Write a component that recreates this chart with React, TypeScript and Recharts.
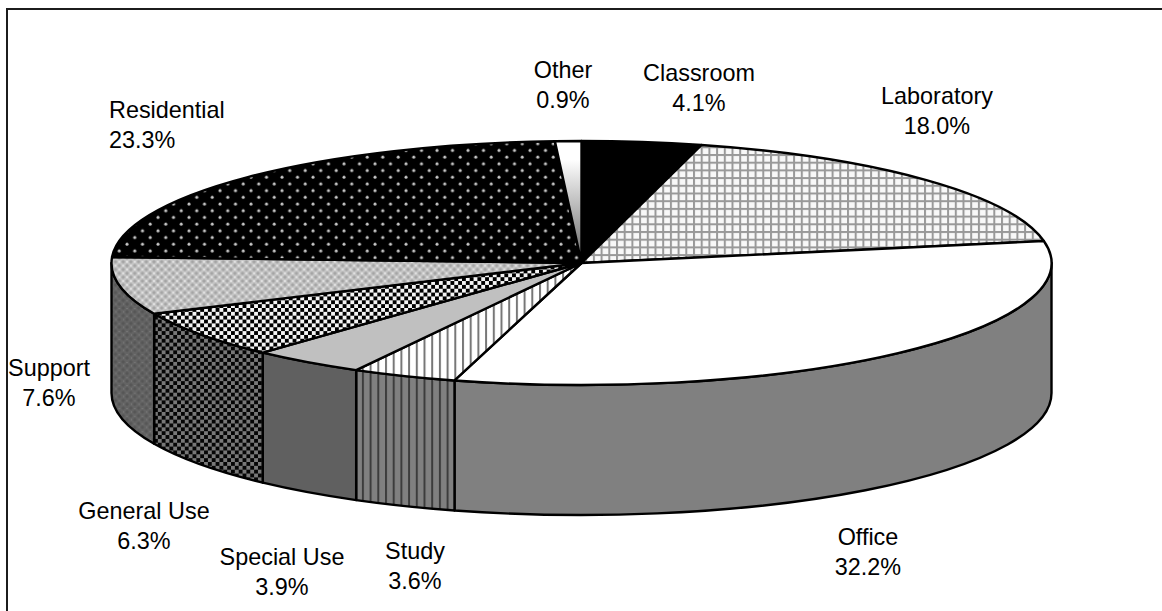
import React from 'react';
import { PieChart, Pie } from 'recharts';

const categories = ['Classroom', 'Laboratory', 'Office', 'Study', 'Special Use', 'General Use', 'Support', 'Residential', 'Other'];
const shares = [4.1, 18.0, 32.2, 3.6, 3.9, 6.3, 7.6, 23.3, 0.9];
const rows = categories.map((name, i) => ({ name, value: shares[i] }));

const TOP_FILL: Record<string, string> = {
  Classroom: '#000',
  Laboratory: 'url(#labTop)',
  Office: '#fff',
  Study: 'url(#studyTop)',
  'Special Use': '#c0c0c0',
  'General Use': 'url(#generalTop)',
  Support: 'url(#supportTop)',
  Residential: 'url(#residentialTop)',
  Other: 'url(#otherTop)',
};
const WALL_FILL: Record<string, string> = {
  Office: '#808080',
  Study: 'url(#studyWall)',
  'Special Use': '#606060',
  'General Use': 'url(#generalWall)',
  Support: 'url(#supportWall)',
};
const LABEL_POS: Record<string, { x: number; y: number; anchor: 'middle' | 'start' }> = {
  Classroom: { x: 699, y: 81, anchor: 'middle' },
  Laboratory: { x: 937, y: 104, anchor: 'middle' },
  Office: { x: 868, y: 545, anchor: 'middle' },
  Study: { x: 415, y: 559, anchor: 'middle' },
  'Special Use': { x: 282, y: 565, anchor: 'middle' },
  'General Use': { x: 144, y: 519, anchor: 'middle' },
  Support: { x: 49, y: 376, anchor: 'middle' },
  Residential: { x: 109, y: 118, anchor: 'start' },
  Other: { x: 563, y: 78, anchor: 'middle' },
};

const FLATTEN = 122 / 470;
const DEPTH = 130;
const rad = (d: number) => (d * Math.PI) / 180;

function Slice(props: any) {
  const { cx, cy, outerRadius, startAngle, endAngle, name, payload } = props;
  const key = name ?? payload?.name;
  const rx = outerRadius;
  const ry = outerRadius * FLATTEN;
  const t1 = 90 - startAngle;
  const t2 = 90 - endAngle;
  const at = (t: number, dy = 0) => `${cx + rx * Math.sin(rad(t))} ${cy - ry * Math.cos(rad(t)) + dy}`;
  const top = `M${cx} ${cy}L${at(t1)}A${rx} ${ry} 0 ${t2 - t1 > 180 ? 1 : 0} 1 ${at(t2)}Z`;
  const w1 = Math.max(t1, 90);
  const w2 = Math.min(t2, 270);
  const wall =
    w2 > w1 && WALL_FILL[key]
      ? `M${at(w1)}A${rx} ${ry} 0 0 1 ${at(w2)}L${at(w2, DEPTH)}A${rx} ${ry} 0 0 0 ${at(w1, DEPTH)}Z`
      : null;
  return (
    <g>
      {wall && <path d={wall} fill={WALL_FILL[key]} stroke="#000" strokeWidth={2.4} strokeLinejoin="round" />}
      <path d={top} fill={TOP_FILL[key]} stroke="#000" strokeWidth={2.4} strokeLinejoin="round" />
    </g>
  );
}

function SliceLabel(props: any) {
  const key = props.name ?? props.payload?.name;
  const value = props.value ?? props.payload?.value;
  const pos = LABEL_POS[key];
  if (!pos) return null;
  return (
    <text x={pos.x} y={pos.y} textAnchor={pos.anchor} fontFamily="Liberation Sans, Arial, sans-serif" fontSize={23.4} fill="#000">
      <tspan x={pos.x}>{key}</tspan>
      <tspan x={pos.x} dy={30}>{`${Number(value).toFixed(1)}%`}</tspan>
    </text>
  );
}

function Patterns() {
  const c = 7.7;
  const h = c / 2;
  const dx = 15.5;
  const dy = 13.4;
  return (
    <defs>
      <pattern id="labTop" width={c} height={c} patternUnits="userSpaceOnUse">
        <rect width={c} height={c} fill="#f8f8f8" />
        <rect width={2} height={c} fill="#999" />
        <rect width={c} height={2} fill="#999" />
      </pattern>
      <pattern id="studyTop" width={c} height={c} patternUnits="userSpaceOnUse">
        <rect width={c} height={c} fill="#fff" />
        <rect width={2} height={c} fill="#777" />
      </pattern>
      <pattern id="studyWall" width={c} height={c} patternUnits="userSpaceOnUse">
        <rect width={c} height={c} fill="#808080" />
        <rect width={2} height={c} fill="#3c3c3c" />
      </pattern>
      <pattern id="generalTop" width={c} height={c} patternUnits="userSpaceOnUse">
        <rect width={c} height={c} fill="#f4f4f4" />
        <rect width={h} height={h} fill="#000" />
        <rect x={h} y={h} width={h} height={h} fill="#000" />
      </pattern>
      <pattern id="generalWall" width={c} height={c} patternUnits="userSpaceOnUse">
        <rect width={c} height={c} fill="#787878" />
        <rect width={h} height={h} fill="#050505" />
        <rect x={h} y={h} width={h} height={h} fill="#050505" />
      </pattern>
      <pattern id="supportTop" width={c} height={c} patternUnits="userSpaceOnUse">
        <rect width={c} height={c} fill="#c6c6c6" />
        <circle cx={0} cy={0} r={1.7} fill="#a4a4a4" />
        <circle cx={c} cy={0} r={1.7} fill="#a4a4a4" />
        <circle cx={0} cy={c} r={1.7} fill="#a4a4a4" />
        <circle cx={c} cy={c} r={1.7} fill="#a4a4a4" />
        <circle cx={h} cy={h} r={1.7} fill="#a4a4a4" />
        <circle cx={h} cy={0} r={0.9} fill="#ececec" />
        <circle cx={h} cy={c} r={0.9} fill="#ececec" />
        <circle cx={0} cy={h} r={0.9} fill="#ececec" />
        <circle cx={c} cy={h} r={0.9} fill="#ececec" />
      </pattern>
      <pattern id="supportWall" width={c} height={c} patternUnits="userSpaceOnUse">
        <rect width={c} height={c} fill="#646464" />
        <circle cx={h} cy={h} r={1.7} fill="#565656" />
        <circle cx={0} cy={0} r={1.7} fill="#565656" />
        <circle cx={c} cy={0} r={1.7} fill="#565656" />
        <circle cx={0} cy={c} r={1.7} fill="#565656" />
        <circle cx={c} cy={c} r={1.7} fill="#565656" />
        <circle cx={h} cy={0} r={0.9} fill="#7c7c7c" />
        <circle cx={0} cy={h} r={0.9} fill="#7c7c7c" />
      </pattern>
      <pattern id="residentialTop" width={dx} height={dy} patternUnits="userSpaceOnUse">
        <rect width={dx} height={dy} fill="#000" />
        <circle cx={3} cy={3} r={1.5} fill="#c8c8c8" />
        <circle cx={3 + dx / 2} cy={3 + dy / 2} r={1.5} fill="#c8c8c8" />
      </pattern>
      <linearGradient id="otherTop" x1="0" y1="0" x2="0" y2="1">
        <stop offset="0.15" stopColor="#fff" />
        <stop offset="1" stopColor="#666" />
      </linearGradient>
    </defs>
  );
}

export default function App() {
  return (
    <div style={{ position: 'absolute', left: 0, top: 0, width: 1162, height: 611, background: '#fff', overflow: 'hidden' }}>
      <div style={{ position: 'absolute', left: 6, top: 8, width: 1162, height: 611, borderLeft: '2px solid #1c1c1c', borderTop: '2px solid #1c1c1c' }} />
      <div style={{ position: 'absolute', left: 0, top: 0 }}>
        <PieChart width={1162} height={611} margin={{ top: 0, right: 0, bottom: 0, left: 0 }}>
          <Patterns />
          <Pie
            data={rows}
            dataKey="value"
            nameKey="name"
            cx={581.5}
            cy={263}
            outerRadius={470}
            innerRadius={0}
            startAngle={90}
            endAngle={-270}
            paddingAngle={0}
            stroke="none"
            shape={Slice}
            label={SliceLabel}
            labelLine={false}
            isAnimationActive={false}
          />
        </PieChart>
      </div>
    </div>
  );
}
